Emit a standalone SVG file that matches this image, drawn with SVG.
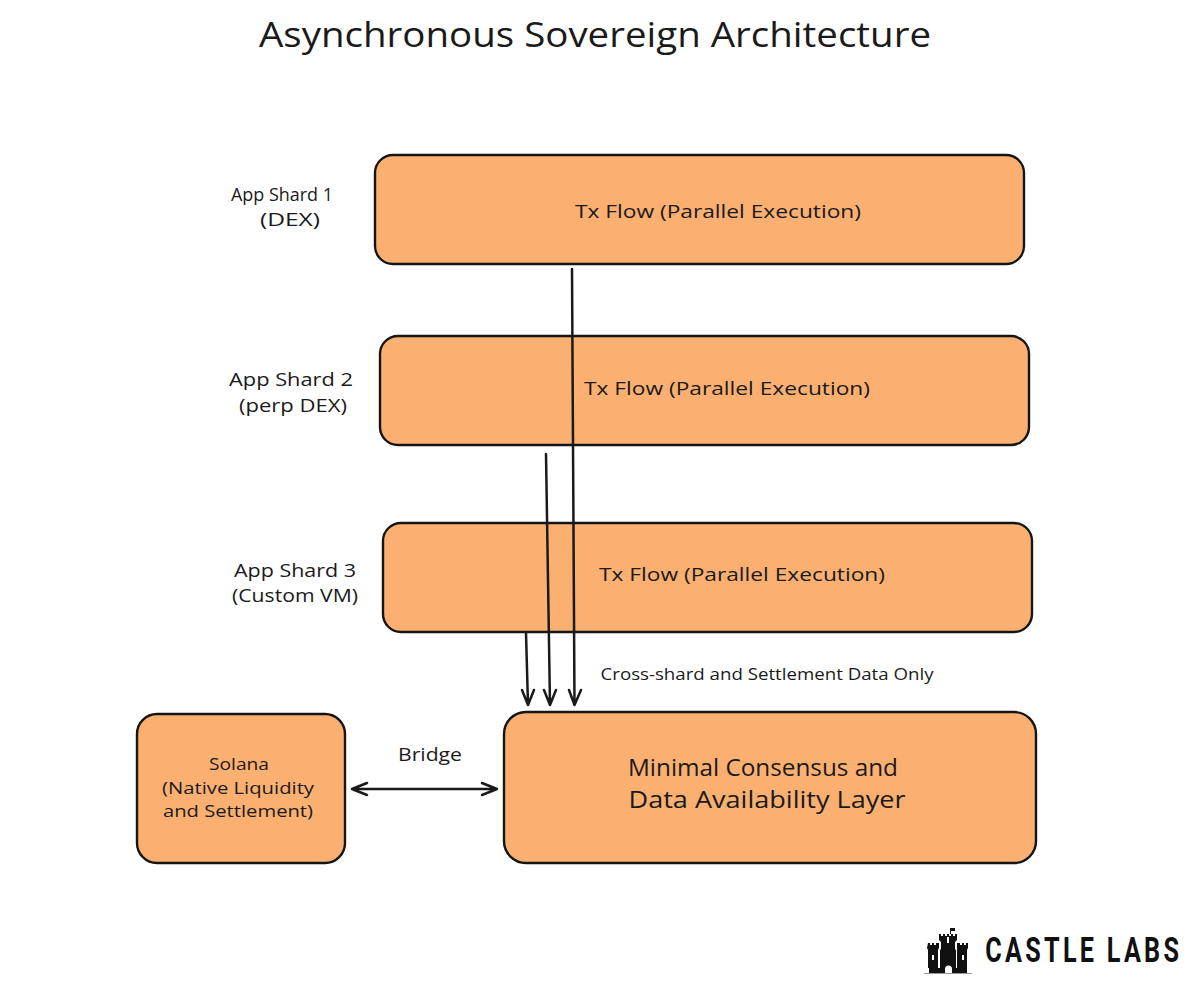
<svg xmlns="http://www.w3.org/2000/svg" width="1200" height="989" viewBox="0 0 1200 989">
<style>
text{font-family:"Open Sans","Noto Sans",sans-serif;fill:#1a1a1a;text-anchor:middle}
.box{fill:#fbb072;stroke:#151515;stroke-width:2.4}
.con{fill:none;stroke:#1a1a1a;stroke-width:2.5;stroke-linecap:round;stroke-linejoin:round}
.t{font-size:18px}.l{font-size:18px}
.logo-ink{fill:#111}
</style>
<rect width="1200" height="989" fill="#fff"/>
<text id="title" x="595" y="47" font-size="34" font-weight="500" textLength="672" lengthAdjust="spacingAndGlyphs">Asynchronous Sovereign Architecture</text>
<g id="shard1-label"><text class="l" x="282" y="201" textLength="102" lengthAdjust="spacingAndGlyphs">App Shard 1</text><text class="l" x="290" y="226" textLength="60" lengthAdjust="spacingAndGlyphs">(DEX)</text></g>
<g id="shard2-label"><text class="l" x="291" y="386" textLength="124" lengthAdjust="spacingAndGlyphs">App Shard 2</text><text class="l" x="293" y="412" textLength="108" lengthAdjust="spacingAndGlyphs">(perp DEX)</text></g>
<g id="shard3-label"><text class="l" x="295" y="577" textLength="122" lengthAdjust="spacingAndGlyphs">App Shard 3</text><text class="l" x="295" y="602" textLength="126" lengthAdjust="spacingAndGlyphs">(Custom VM)</text></g>
<g id="shard1"><rect class="box" x="375" y="155" width="649" height="109" rx="18"/><text class="t" x="718" y="218" textLength="286" lengthAdjust="spacingAndGlyphs">Tx Flow (Parallel Execution)</text></g>
<g id="shard2"><rect class="box" x="380" y="336" width="649" height="109" rx="18"/><text class="t" x="727" y="395" textLength="286" lengthAdjust="spacingAndGlyphs">Tx Flow (Parallel Execution)</text></g>
<g id="shard3"><rect class="box" x="383" y="523" width="649" height="109" rx="18"/><text class="t" x="742" y="581" textLength="286" lengthAdjust="spacingAndGlyphs">Tx Flow (Parallel Execution)</text></g>
<g id="consensus"><rect class="box" x="504" y="712" width="532" height="151" rx="22"/><text x="763" y="776" font-size="23" textLength="270" lengthAdjust="spacingAndGlyphs">Minimal Consensus and</text><text x="767" y="808" font-size="23" textLength="277" lengthAdjust="spacingAndGlyphs">Data Availability Layer</text></g>
<g id="solana"><rect class="box" x="137" y="714" width="208" height="149" rx="20"/><text x="239" y="770" font-size="17" textLength="60" lengthAdjust="spacingAndGlyphs">Solana</text><text x="238" y="794" font-size="17" textLength="152" lengthAdjust="spacingAndGlyphs">(Native Liquidity</text><text x="238" y="817" font-size="17" textLength="150" lengthAdjust="spacingAndGlyphs">and Settlement)</text></g>
<g id="connectors">
<path class="con" d="M572 269L574.500 705M569 690L574.500 705L581 690"/>
<path class="con" d="M546 454L550 705M544 690L550 705L556 690"/>
<path class="con" d="M526 633L528 705M522 690L528 705L534 690"/>
<path class="con" d="M352 789L497 789M367 783L352 789L367 795M482 783L497 789L482 795"/>
</g>
<text id="edge-label" x="767" y="680" font-size="16" textLength="333" lengthAdjust="spacingAndGlyphs">Cross-shard and Settlement Data Only</text>
<text id="bridge-label" x="430" y="761" font-size="19" textLength="64" lengthAdjust="spacingAndGlyphs">Bridge</text>
<g id="logo">
<path class="logo-ink" d="M928 943h2v2h2v-2h2v2h2v-2h3v5l-1 2v18h-10v-18l-1-2zM957 943h3v2h2v-2h2v2h2v-2h2v5l-1 2v18h-10v-18z"/>
<path class="logo-ink" d="M939 934h2v2h2v-2h2v2h2v-2h2v2h2v-2h2v2h2v-2h2v6l-2 2v7l1 1v23h-16v-23l1-1v-7l-2-2z"/>
<path class="logo-ink" d="M929 968h38v5h-38z"/>
<path class="logo-ink" d="M950 934v-6h5v3h-4v3z"/>
<path fill="#fff" d="M945 973v-4a3.500 3.500 0 0 1 7 0v4zM932 955h2v5h-2zM962 955h2v5h-2zM947 937h2v6h-2z"/>
<rect x="924" y="973" width="48" height="1" fill="#999"/>
<text x="1503" y="962" transform="scale(.72 1)" font-size="35" textLength="269" lengthAdjust="spacing" style="font-family:Roboto,sans-serif;font-weight:700;fill:#111">CASTLE LABS</text>
</g>
</svg>
